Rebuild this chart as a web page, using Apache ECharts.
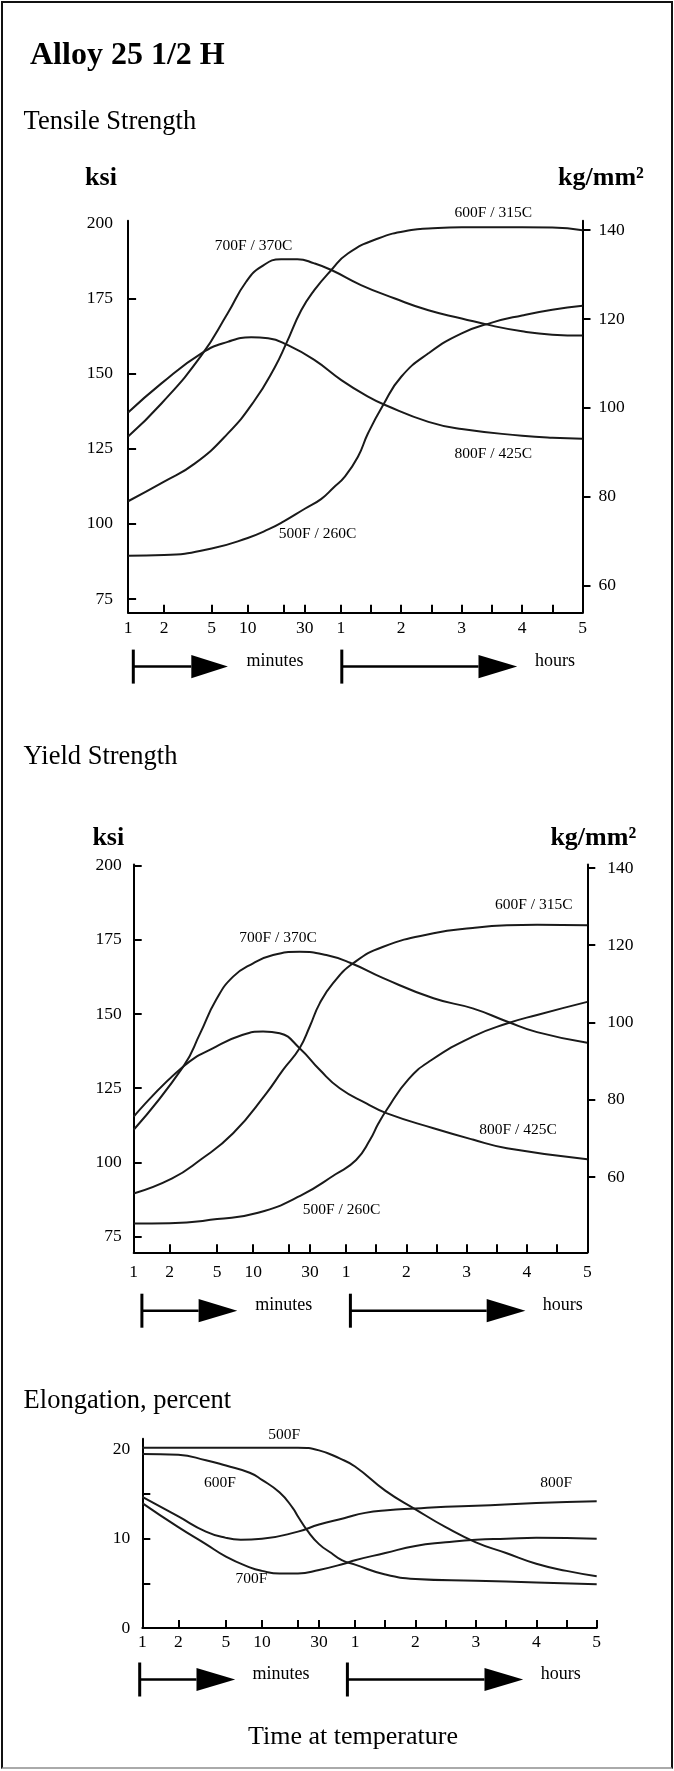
<!DOCTYPE html>
<html>
<head>
<meta charset="utf-8">
<script src="https://cdn.jsdelivr.net/npm/echarts@6/dist/echarts.min.js"></script>
<style>
  html, body { margin: 0; padding: 0; background: #fff; }
  #chart { position: absolute; left: 0; top: 0; width: 674px; height: 1771px; }
  #frame { position: absolute; left: 1px; top: 1px; width: 668px; height: 1764px;
           border: 2px solid #111; border-bottom-color: #aaa; pointer-events: none; }
</style>
</head>
<body>
<div id="chart"></div>
<div id="frame"></div>
<script>
// ---------- time axis (minutes: 1..60 log, then hours linear) ----------
const tickTimes  = [1, 2, 5, 10, 20, 30, 60, 90, 120, 150, 180, 210, 240, 270, 300];
const labelTimes = [1, 2, 5, 10, 30, 60, 120, 180, 240, 300];
const labelTexts = ['1', '2', '5', '10', '30', '1', '2', '3', '4', '5'];

// ---------- Tensile strength, ksi  [minutes, ksi] ----------
const tensile500 = [[1,89.4],[2,89.6],[5,91.8],[10,95.3],[15,98.2],[20,100.8],[30,105],[41,108.2],[52,112],[64,115.7],[77,122.3],[87,130.1],[102,139.5],[120,148.9],[147,156.7],[180,163.3],[210,166.9],[240,169.3],[270,171.2],[300,172.5]];
const tensile600 = [[1,107.5],[2,114],[3.6,120],[6.8,130],[11.4,141],[16.8,152],[21,160],[28,171],[36,177.7],[50,184.4],[67,189.9],[97,194.9],[130,197.7],[147,198.2],[180,198.6],[240,198.6],[270,198.5],[300,197.6]];
const tensile700 = [[1,129],[1.9,140],[4.1,156],[6.8,170],[9.7,180.5],[13,185.5],[19,188],[26,188],[36,186.6],[50,184.4],[80,179.4],[113,175],[147,171],[180,168.3],[210,165.9],[240,164],[270,162.9],[300,162.6]];
const tensile800 = [[1,137],[1.9,146.7],[4.1,156.7],[6.8,160.5],[10.7,162],[14.8,161.7],[21.7,159.4],[36,154.5],[60.5,147.8],[87,142.3],[104,139.5],[147,133.9],[180,131.5],[240,129.3],[270,128.6],[300,128.3]];

// ---------- Yield strength, ksi ----------
const yield500 = [[1,79.4],[2,79.5],[5,80.9],[11,83],[25,88.8],[49,96],[70,100.8],[84,107.7],[92,113],[100,117.5],[122,128],[145,134.5],[186,142.4],[220,146.8],[250,149.7],[300,154.1]];
const yield600 = [[1,89.5],[2.1,94.6],[3.6,100.8],[6.8,109.8],[12.9,123.3],[17.8,131.2],[24.5,138.5],[29.8,145.8],[36.1,153.6],[46.7,160.4],[67,167.1],[97,172.7],[147,177.2],[186,179],[220,179.9],[250,180.1],[300,179.9]];
const yield700 = [[1,111],[2.6,132.3],[3.6,143.5],[4.9,154.8],[6.8,162.6],[10,167.1],[14.7,169.9],[24.5,171],[41,169.9],[64,167.3],[97,162.1],[147,155.3],[186,151.9],[220,147.5],[250,143.9],[300,140.3]];
const yield800 = [[1,115.4],[2.6,132.3],[4.9,139],[8.2,143],[12.1,144.1],[16.7,143.5],[24.5,138.5],[36.1,131.2],[53.1,125],[80.2,119.9],[100,116.6],[147,111.5],[186,107.7],[220,104.8],[300,101.1]];

// ---------- Elongation, percent ----------
const elong500 = [[1,20.2],[10,20.2],[20,20.2],[30,19.9],[44.6,19.0],[60,18.1],[90,15.4],[120,13.3],[150,11.3],[180,9.6],[210,8.4],[240,7.2],[270,6.4],[300,5.8]];
const elong600 = [[1,19.5],[2,19.4],[3.4,18.8],[5,18.2],[7.9,17.4],[10,16.6],[14,15.2],[18,13.5],[20,12.5],[24,10.9],[30,9.4],[38,8.4],[46.5,7.6],[60,7.1],[90,6.0],[120,5.5],[180,5.3],[240,5.1],[300,4.9]];
const elong700 = [[1,14.0],[2,11.3],[3.4,9.4],[5,8.0],[7.9,6.8],[10,6.4],[14,6.1],[20,6.1],[30,6.5],[48.5,7.2],[60,7.6],[90,8.4],[120,9.2],[150,9.6],[180,9.9],[210,10.0],[240,10.1],[300,10.0]];
const elong800 = [[1,14.7],[2,12.5],[3.4,10.8],[5,10.1],[6.65,9.9],[10,10.0],[20,10.8],[30,11.6],[48.5,12.3],[70,12.9],[92,13.2],[120,13.4],[150,13.6],[180,13.7],[240,14.0],[300,14.2]];

// ---------- y tick values ----------
const ksiTicks1 = [75, 100, 125, 150, 175];
const ksiLabels = [75, 100, 125, 150, 175, 200];
const ksiTicks2 = [75, 100, 125, 150, 175, 200];
const kgTicks = [60, 80, 100, 120, 140];
const elongTicks = [5, 10, 15];
const elongLabels = [0, 10, 20];

// ---------- texts ----------
const strengthLabels = ['500F / 260C', '600F / 315C', '700F / 370C', '800F / 425C'];
const elongSeriesLabels = ['500F', '600F', '700F', '800F'];

// ---------- build ----------
const HOUR_DECADES = 0.505;
function pos(t) { return t <= 60 ? Math.log10(t) : Math.log10(60) + (t / 60 - 1) * HOUR_DECADES; }
const XMAX = pos(300);
const tickPos = tickTimes.filter(t => t > 1).map(pos);
const labelPos = labelTimes.map(pos);
function xFmt(v) {
  for (let i = 0; i < labelPos.length; i++) if (Math.abs(labelPos[i] - v) < 1e-6) return labelTexts[i];
  return '';
}
const SERIF = "'Liberation Serif', 'DejaVu Serif', serif";
const axisLine = { show: true, onZero: false, lineStyle: { color: '#000', width: 2 } };
const tickStyle = { color: '#000', width: 2 };

function xAxis(gi, margin) {
  return {
    gridIndex: gi, type: 'value', min: 0, max: XMAX,
    axisLine: axisLine, splitLine: { show: false },
    axisTick: { show: true, inside: true, length: 8, customValues: tickPos, lineStyle: tickStyle },
    axisLabel: { customValues: labelPos, formatter: xFmt, margin: margin, color: '#000',
                 fontFamily: SERIF, fontSize: 17.5, hideOverlap: false, showMinLabel: true, showMaxLabel: true }
  };
}
function yAxis(gi, position, min, max, ticks, labels, inside, margin) {
  return {
    gridIndex: gi, type: 'value', position: position, min: min, max: max,
    axisLine: axisLine, splitLine: { show: false },
    axisTick: { show: true, inside: inside, length: 8, customValues: ticks, lineStyle: tickStyle },
    axisLabel: { customValues: labels, margin: margin, color: '#000',
                 fontFamily: SERIF, fontSize: 17.5, hideOverlap: false, showMinLabel: true, showMaxLabel: true }
  };
}
function line(data, xi, yi) {
  return {
    type: 'line', xAxisIndex: xi, yAxisIndex: yi, showSymbol: false, symbol: 'none',
    smooth: 0.5, silent: true,
    lineStyle: { color: '#1a1a1a', width: 2 },
    data: data.map(d => [pos(d[0]), d[1]])
  };
}

function txt(x, y, text, size, opts) {
  opts = opts || {};
  return { type: 'text', x: x, y: y, silent: true,
    style: { text: text, fill: '#000', align: opts.align || 'center', verticalAlign: 'middle',
             font: (opts.bold ? 'bold ' : '') + size + 'px ' + SERIF } };
}
function arrows(y, bar1, tri1, bar2, tri2, minX, hrX, ty) {
  const g = [];
  const lw = { stroke: '#000', lineWidth: 2.5 };
  g.push({ type: 'line', shape: { x1: bar1, y1: y - 17, x2: bar1, y2: y + 17 }, style: { stroke: '#000', lineWidth: 3 } });
  g.push({ type: 'line', shape: { x1: bar1, y1: y, x2: tri1[0], y2: y }, style: lw });
  g.push({ type: 'polygon', shape: { points: [[tri1[0], y - 11.6], [tri1[1], y], [tri1[0], y + 11.6]] }, style: { fill: '#000' } });
  g.push({ type: 'line', shape: { x1: bar2, y1: y - 17, x2: bar2, y2: y + 17 }, style: { stroke: '#000', lineWidth: 3 } });
  g.push({ type: 'line', shape: { x1: bar2, y1: y, x2: tri2[0], y2: y }, style: lw });
  g.push({ type: 'polygon', shape: { points: [[tri2[0], y - 11.6], [tri2[1], y], [tri2[0], y + 11.6]] }, style: { fill: '#000' } });
  g.push(txt(minX, ty, 'minutes', 18));
  g.push(txt(hrX, ty, 'hours', 18));
  return g;
}

const graphics = [].concat(
  [
    txt(30, 56, 'Alloy 25 1/2 H', 32, { bold: true, align: 'left' }),
    txt(23.6, 122, 'Tensile Strength', 26.5, { align: 'left' }),
    txt(101, 178.6, 'ksi', 26, { bold: true }),
    txt(601, 178.6, 'kg/mm²', 26, { bold: true }),
    txt(253.6, 245.7, strengthLabels[2], 15.5),
    txt(493.3, 213, strengthLabels[1], 15.5),
    txt(493.3, 453.7, strengthLabels[3], 15.5),
    txt(317.5, 534.1, strengthLabels[0], 15.5),

    txt(23.6, 756.8, 'Yield Strength', 26.5, { align: 'left' }),
    txt(108.3, 838.7, 'ksi', 26, { bold: true }),
    txt(593.3, 838.7, 'kg/mm²', 26, { bold: true }),
    txt(278, 937.6, strengthLabels[2], 15.5),
    txt(533.8, 905.3, strengthLabels[1], 15.5),
    txt(518, 1129.7, strengthLabels[3], 15.5),
    txt(341.6, 1209.7, strengthLabels[0], 15.5),

    txt(23.6, 1401.5, 'Elongation, percent', 26.5, { align: 'left' }),
    txt(284.2, 1435.3, elongSeriesLabels[0], 15.5),
    txt(219.9, 1482.6, elongSeriesLabels[1], 15.5),
    txt(556.1, 1482.6, elongSeriesLabels[3], 15.5),
    txt(251.5, 1578.5, elongSeriesLabels[2], 15.5),
    txt(353, 1737.6, 'Time at temperature', 26)
  ],
  arrows(666.6, 133.3, [191.3, 227.9], 341.8, [478.5, 517.2], 275, 555, 661),
  arrows(1310.7, 141.9, [198.6, 237.3], 350.4, [486.7, 525.4], 283.7, 562.8, 1305),
  arrows(1679.5, 139.7, [196.5, 235.2], 347.4, [484.5, 523.2], 281, 560.8, 1674)
);

const option = {
  animation: false,
  backgroundColor: '#fff',
  grid: [
    { left: 128.1, top: 220.7, width: 454.4, height: 392.1, containLabel: false, outerBoundsMode: 'none' },
    { left: 133.7, top: 864.5, width: 453.6, height: 387.8, containLabel: false, outerBoundsMode: 'none' },
    { left: 142.3, top: 1438.8, width: 454.4, height: 189.2, containLabel: false, outerBoundsMode: 'none' }
  ],
  xAxis: [ xAxis(0, 7), xAxis(1, 11), xAxis(2, 5) ],
  yAxis: [
    yAxis(0, 'left', 70.4, 200.8, ksiTicks1, ksiLabels, true, 15),
    yAxis(0, 'right', 53.9, 142.1, kgTicks, kgTicks, false, 16),
    yAxis(1, 'left', 69.7, 200.4, ksiTicks2, ksiLabels, true, 12),
    yAxis(1, 'right', 40.5, 140.9, kgTicks, kgTicks, false, 20),
    yAxis(2, 'left', 0, 21.2, elongTicks, elongLabels, true, 12)
  ],
  series: [
    line(tensile500, 0, 0), line(tensile600, 0, 0), line(tensile700, 0, 0), line(tensile800, 0, 0),
    line(yield500, 1, 2), line(yield600, 1, 2), line(yield700, 1, 2), line(yield800, 1, 2),
    line(elong500, 2, 4), line(elong600, 2, 4), line(elong700, 2, 4), line(elong800, 2, 4)
  ],
  graphic: { elements: graphics }
};

const chart = echarts.init(document.getElementById('chart'), null, { renderer: 'canvas' });
chart.setOption(option);
</script>
</body>
</html>
